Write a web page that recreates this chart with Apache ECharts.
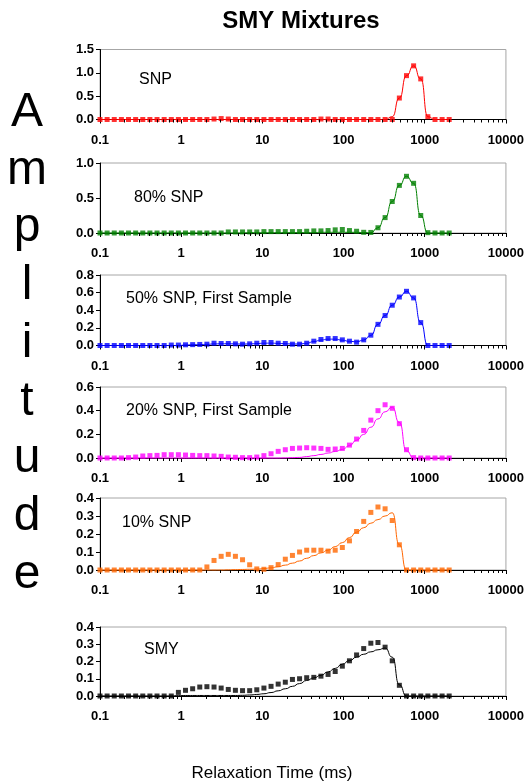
<!DOCTYPE html>
<html><head><meta charset="utf-8">
<script src="https://cdn.jsdelivr.net/npm/echarts@6/dist/echarts.min.js"></script>
<style>html,body{margin:0;padding:0;background:#fff}#c{width:527px;height:784px}</style>
</head><body><div id="c"></div>
<script>
// ---- data ----
const relaxTimes = [0.1, 0.1224, 0.1498, 0.1834, 0.2245, 0.2748, 0.3364, 0.4117, 0.504, 0.6169,
  0.7551, 0.9237, 1.131, 1.384, 1.694, 2.074, 2.538, 3.107, 3.803, 4.655,
  5.698, 6.975, 8.537, 10.45, 12.79, 15.66, 19.17, 23.46, 28.72, 35.15,
  43.02, 52.67, 64.47, 78.91, 96.59, 118.2, 144.7, 177.1, 216.8, 265.4,
  324.9, 397.7, 486.8, 595.8, 729.3, 892.7, 1093, 1338, 1637, 2000];
const xTickLabels = ['0.1', '1', '10', '100', '1000', '10000'];
const panelLabels = ['SNP', '80% SNP', '50% SNP, First Sample', '20% SNP, First Sample', '10% SNP', 'SMY'];
const yMaxes = [1.5, 1.0, 0.8, 0.6, 0.4, 0.4];
const yIntervals = [0.5, 0.5, 0.2, 0.2, 0.1, 0.1];

const snpPts = [0,0,0,0,0,0,0,0,0,0, 0,0,0,0,0,0,0.01,0.02,0.01,0, 0,0,0,0,0,0,0,0,0,0, 0,0.01,0.01,0,0,0,0,0,0,0, 0,0,0.46,0.94,1.15,0.87,0.06,0,0,0];
const snpFit = [0,0,0,0,0,0,0,0,0,0, 0,0,0,0,0,0,0,0,0,0, 0,0,0,0,0,0,0,0,0,0, 0,0,0,0,0,0,0,0,0,0, 0,0.06,0.46,0.94,1.15,0.87,0.06,0,0,0];

const snp80Pts = [0,0,0,0,0,0,0,0,0,0, 0,0,0,0,0,0,0,0,0.015,0.015, 0.015,0.015,0.015,0.02,0.02,0.02,0.02,0.02,0.02,0.025, 0.03,0.03,0.035,0.045,0.05,0.035,0.025,0.01,0.008,0.075, 0.22,0.45,0.68,0.81,0.71,0.25,0.005,0,0,0];
const snp80Fit = [0,0,0,0,0,0,0,0,0,0, 0,0,0,0,0,0,0,0,0,0, 0,0.005,0.005,0.005,0.005,0.005,0.005,0.005,0.005,0.005, 0.005,0.01,0.01,0.01,0.01,0.01,0.01,0.005,0.005,0.075, 0.22,0.45,0.68,0.81,0.71,0.25,0,0,0,0];

const snp50Pts = [0,0,0,0,0,0,0,0,0,0, 0.005,0.005,0.008,0.01,0.012,0.015,0.026,0.023,0.023,0.019, 0.015,0.019,0.026,0.034,0.034,0.026,0.023,0.015,0.015,0.026, 0.049,0.068,0.079,0.079,0.064,0.049,0.038,0.064,0.117,0.24, 0.34,0.457,0.55,0.615,0.54,0.26,0,0,0,0];
const snp50Fit = [0,0,0,0,0,0,0,0,0,0, 0,0,0.005,0.008,0.01,0.013,0.018,0.02,0.02,0.018, 0.016,0.018,0.022,0.026,0.027,0.024,0.02,0.017,0.017,0.025, 0.045,0.062,0.072,0.072,0.06,0.047,0.042,0.062,0.115,0.24, 0.34,0.457,0.55,0.615,0.54,0.26,0,0,0,0];

const snp20Pts = [0,0,0,0,0.003,0.008,0.017,0.02,0.022,0.028, 0.028,0.028,0.025,0.022,0.02,0.02,0.017,0.014,0.008,0.006, 0.003,0.003,0.008,0.02,0.036,0.056,0.07,0.081,0.084,0.087, 0.084,0.081,0.073,0.076,0.081,0.109,0.16,0.233,0.32,0.40, 0.45,0.42,0.29,0.07,0.003,0,0,0,0,0];
const snp20Fit = [0,0,0,0,0,0,0,0,0,0, 0,0,0,0,0,0,0,0,0,0, 0,0,0,0,0,0,0.001,0.003,0.005,0.012, 0.02,0.03,0.042,0.055,0.072,0.105,0.15,0.2,0.26,0.33, 0.39,0.43,0.30,0.06,0,0,0,0,0,0];

const snp10Pts = [0,0,0,0,0,0,0,0,0,0, 0,0,0,0,0,0.017,0.053,0.076,0.087,0.076, 0.057,0.029,0.006,0.004,0.013,0.03,0.06,0.081,0.1,0.11, 0.11,0.11,0.105,0.11,0.125,0.162,0.214,0.27,0.32,0.35, 0.34,0.275,0.14,0,0,0,0,0,0,0];
const snp10Fit = [0,0,0,0,0,0,0,0,0,0, 0,0,0,0,0,0,0,0,0.001,0.002, 0.003,0.004,0.005,0.008,0.012,0.018,0.027,0.038,0.05,0.065, 0.08,0.095,0.11,0.13,0.152,0.18,0.21,0.235,0.26,0.28, 0.30,0.318,0.14,0,0,0,0,0,0,0];

const smyPts = [0,0,0,0,0,0,0,0,0,0, 0,0.021,0.033,0.042,0.052,0.054,0.052,0.046,0.038,0.033, 0.031,0.031,0.036,0.046,0.056,0.069,0.08,0.096,0.1,0.106, 0.108,0.115,0.125,0.142,0.173,0.204,0.238,0.275,0.306,0.31, 0.283,0.204,0.062,0,0,0,0,0,0,0];
const smyFit = [0,0,0,0,0,0,0,0,0,0, 0,0.002,0.003,0.003,0.003,0.003,0.003,0.003,0.003,0.003, 0.004,0.006,0.009,0.013,0.02,0.03,0.042,0.056,0.072,0.09, 0.105,0.12,0.14,0.16,0.185,0.205,0.225,0.242,0.256,0.268, 0.278,0.225,0.065,0,0,0,0,0,0,0];

const pointSets = [snpPts, snp80Pts, snp50Pts, snp20Pts, snp10Pts, smyPts];
const fitSets = [snpFit, snp80Fit, snp50Fit, snp20Fit, snp10Fit, smyFit];

// minor tick positions of the log axis (2..9 in each decade)
const minorTickVals = [];
[0.1, 1, 10, 100, 1000].forEach(d => { for (let m = 2; m <= 9; m++) minorTickVals.push(+(m * d).toPrecision(3)); });

// ---- layout / style ----
const FONT = '"Liberation Sans", Arial, Helvetica, sans-serif';
const colors = ['#ff0000', '#008000', '#0000ff', '#ff00ff', '#ff6600', '#000000'];
const layout = [
  { top: 49.5, h: 70, lx: 139, ly: 79.5 },
  { top: 163, h: 70, lx: 134, ly: 198 },
  { top: 275, h: 70.5, lx: 126, ly: 299 },
  { top: 387, h: 71, lx: 126, ly: 411 },
  { top: 498, h: 72, lx: 122, ly: 523 },
  { top: 627, h: 69, lx: 144, ly: 650 }
];

const grids = [], xAxes = [], yAxes = [], series = [], graphics = [];
layout.forEach((L, i) => {
  grids.push({ left: 100, width: 406, top: L.top, height: L.h, show: true, borderColor: '#a6a6a6', borderWidth: 1, backgroundColor: 'transparent', containLabel: false });
  xAxes.push({
    type: 'log', logBase: 10, gridIndex: i, min: 0.1, max: 10000,
    axisLine: { show: true, lineStyle: { color: '#000', width: 1 } },
    axisTick: { show: true, length: 4, inside: false, lineStyle: { color: '#000' } },
    minorTick: { show: false },
    splitLine: { show: false },
    axisLabel: {
      margin: 14, color: '#000', fontWeight: 'bold', fontSize: 13, fontFamily: FONT,
      formatter: v => xTickLabels[Math.round(Math.log10(v)) + 1]
    }
  });
  yAxes.push({
    type: 'value', gridIndex: i, min: 0, max: yMaxes[i], interval: yIntervals[i],
    axisLine: { show: true, lineStyle: { color: '#000', width: 1 } },
    axisTick: { show: true, length: 4, lineStyle: { color: '#000' } },
    splitLine: { show: false },
    axisLabel: { margin: 6, color: '#000', fontWeight: 'bold', fontSize: 13, fontFamily: FONT, formatter: v => v.toFixed(1), showMaxLabel: true, showMinLabel: true }
  });
  series.push({
    type: 'line', xAxisIndex: i, yAxisIndex: i, data: relaxTimes.map((x, k) => [x, fitSets[i][k]]),
    smooth: 0.6, smoothMonotone: 'x', showSymbol: false, symbol: 'none', clip: false,
    lineStyle: { color: colors[i], width: 1 }, z: 2, silent: true, animation: false
  });
  series.push({
    type: 'scatter', xAxisIndex: i, yAxisIndex: i, data: relaxTimes.map((x, k) => [x, pointSets[i][k]]),
    symbol: 'rect', symbolSize: 5, itemStyle: { color: colors[i] }, clip: false, z: 3, silent: true, animation: false
  });
  series.push({
    type: 'custom', xAxisIndex: i, yAxisIndex: i, data: minorTickVals.map(v => [v, 0]), clip: false, silent: true, z: 4, animation: false,
    renderItem: (params, api) => {
      const p = api.coord([api.value(0), 0]);
      const x = Math.round(p[0]) + 0.5;
      return { type: 'line', shape: { x1: x, y1: p[1], x2: x, y2: p[1] + 3 }, style: { stroke: '#000', lineWidth: 1 } };
    }
  });
  graphics.push({ type: 'text', x: L.lx, y: L.ly, style: { text: panelLabels[i], font: '16px ' + FONT, fill: '#000', align: 'left', verticalAlign: 'middle' } });
});

graphics.push({ type: 'text', x: 301, y: 21, style: { text: 'SMY Mixtures', font: 'bold 24px ' + FONT, fill: '#000', align: 'center', verticalAlign: 'middle' } });
graphics.push({ type: 'text', x: 27, y: 84, style: { text: 'A\nm\np\nl\ni\nt\nu\nd\ne', font: '48px ' + FONT, lineHeight: 57.7, fill: '#000', align: 'center', verticalAlign: 'top' } });
graphics.push({ type: 'text', x: 272, y: 773, style: { text: 'Relaxation Time (ms)', font: '17px ' + FONT, fill: '#000', align: 'center', verticalAlign: 'middle' } });

const chart = echarts.init(document.getElementById('c'), null, { renderer: 'canvas' });
chart.setOption({
  backgroundColor: '#fff', animation: false,
  grid: grids, xAxis: xAxes, yAxis: yAxes, series: series, graphic: graphics
});
</script></body></html>
